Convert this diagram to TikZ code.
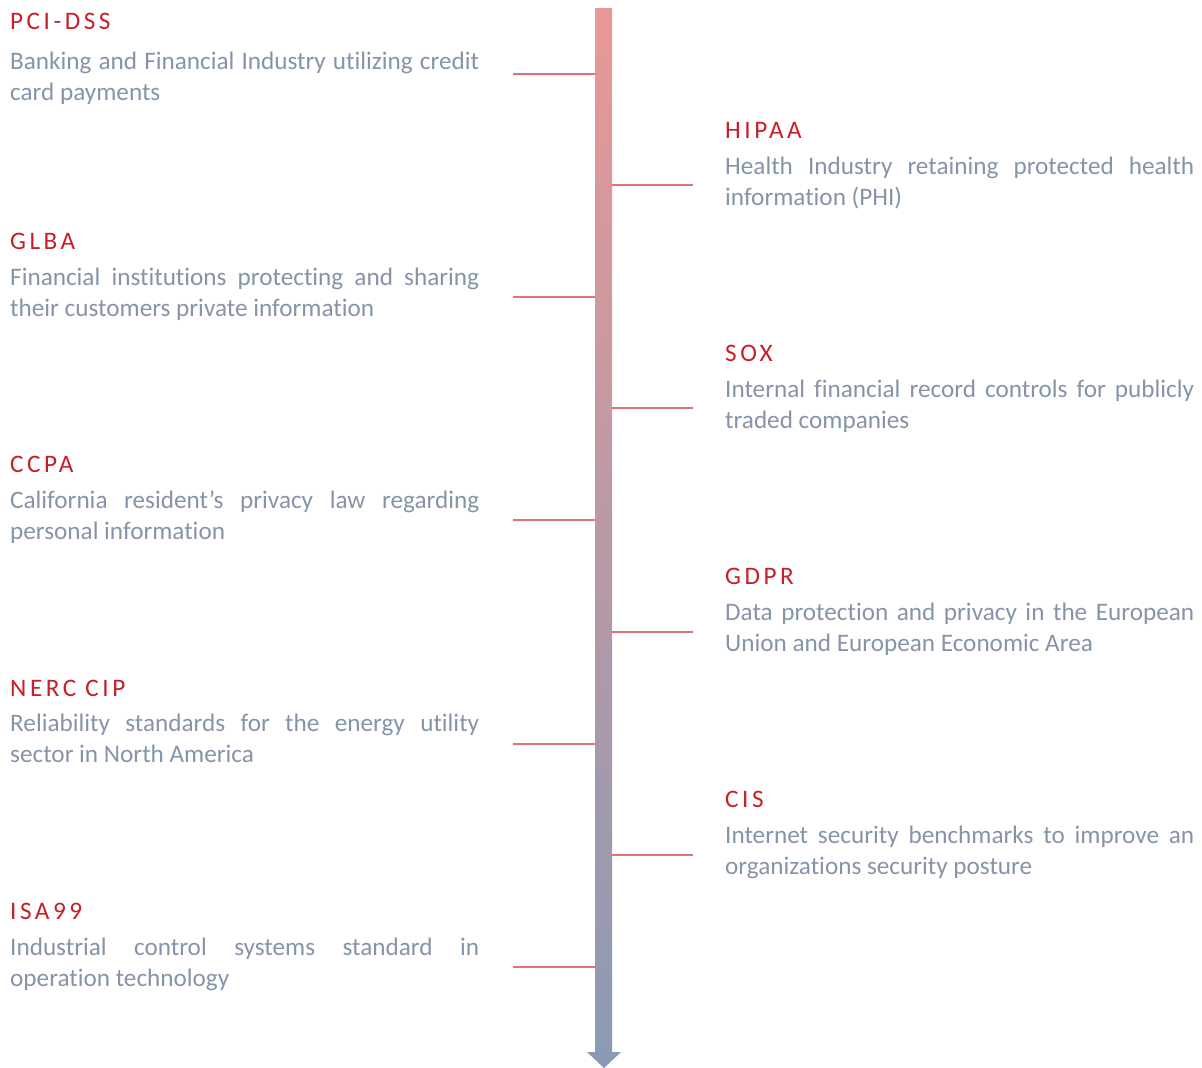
\documentclass[tikz,border=0pt]{standalone}
\usepackage{fontspec}
\setmainfont[Ligatures=NoCommon]{Carlito}
\newfontfamily\spacedfont[LetterSpace=14]{Carlito}
\usetikzlibrary{positioning}
\definecolor{stdred}{RGB}{200,30,40}
\definecolor{stdgray}{RGB}{133,148,168}
\definecolor{linkred}{RGB}{228,112,118}
\definecolor{bartop}{RGB}{232,152,150}
\definecolor{barbottom}{RGB}{138,154,180}
\newcommand{\descwidth}{469pt}
\newcommand{\stdsize}{\fontsize{25.2}{31}\selectfont}

\tikzset{
  stdname/.style={anchor=base west, inner sep=0pt, text=stdred, font=\spacedfont\stdsize},
  stddesc/.style={anchor=base west, inner sep=0pt, text=stdgray, text width=\descwidth, align=justify, font=\stdsize},
  link/.style={draw=linkred, line width=2pt}
}

\begin{document}
\begin{tikzpicture}[x=1pt, y=-1pt]
\useasboundingbox (0,0) rectangle (1202,1068);
% timeline bar
\shade[top color=bartop, bottom color=barbottom] (595,8) -- (612,8) -- (612,1052) -- (621,1052) -- (604,1068) -- (587,1052) -- (595,1052) -- cycle;
\coordinate (b1) at (595,74);
\coordinate (b2) at (612,185);
\coordinate (b3) at (595,297);
\coordinate (b4) at (612,408);
\coordinate (b5) at (595,520);
\coordinate (b6) at (612,632);
\coordinate (b7) at (595,744);
\coordinate (b8) at (612,855);
\coordinate (b9) at (595,967);
% left side
\node[stdname] (n1) at (10,29) {PCI-DSS};
\node[stddesc] (d1) at (10,69) {Banking and Financial Industry utilizing credit\linebreak card payments};
\coordinate (c1) at (513,74);
\node[stdname] (n3) at (10,249) {GLBA};
\node[stddesc] (d3) at (10,285) {Financial institutions protecting and sharing\linebreak their customers private information};
\coordinate (c3) at (513,297);
\node[stdname] (n5) at (10,472) {CCPA};
\node[stddesc] (d5) at (10,508) {California resident’s privacy law regarding\linebreak personal information};
\coordinate (c5) at (513,520);
\node[stdname] (n7) at (10,696) {NERC CIP};
\node[stddesc] (d7) at (10,731) {Reliability standards for the energy utility\linebreak sector in North America};
\coordinate (c7) at (513,744);
\node[stdname] (n9) at (10,919) {ISA99};
\node[stddesc] (d9) at (10,955) {Industrial control systems standard in\linebreak operation technology};
\coordinate (c9) at (513,967);
% right side
\node[stdname] (n2) at (725,138) {HIPAA};
\node[stddesc] (d2) at (725,174) {Health Industry retaining protected health\linebreak information (PHI)};
\coordinate (c2) at (693,185);
\node[stdname] (n4) at (725,361) {SOX};
\node[stddesc] (d4) at (725,397) {Internal financial record controls for publicly\linebreak traded companies};
\coordinate (c4) at (693,408);
\node[stdname] (n6) at (725,584) {GDPR};
\node[stddesc] (d6) at (725,620) {Data protection and privacy in the European\linebreak Union and European Economic Area};
\coordinate (c6) at (693,632);
\node[stdname] (n8) at (725,807) {CIS};
\node[stddesc] (d8) at (725,843) {Internet security benchmarks to improve an\linebreak organizations security posture};
\coordinate (c8) at (693,855);
% connectors
\draw[link] (c1) -- (b1);
\draw[link] (b2) -- (c2);
\draw[link] (c3) -- (b3);
\draw[link] (b4) -- (c4);
\draw[link] (c5) -- (b5);
\draw[link] (b6) -- (c6);
\draw[link] (c7) -- (b7);
\draw[link] (b8) -- (c8);
\draw[link] (c9) -- (b9);
\end{tikzpicture}
\end{document}
